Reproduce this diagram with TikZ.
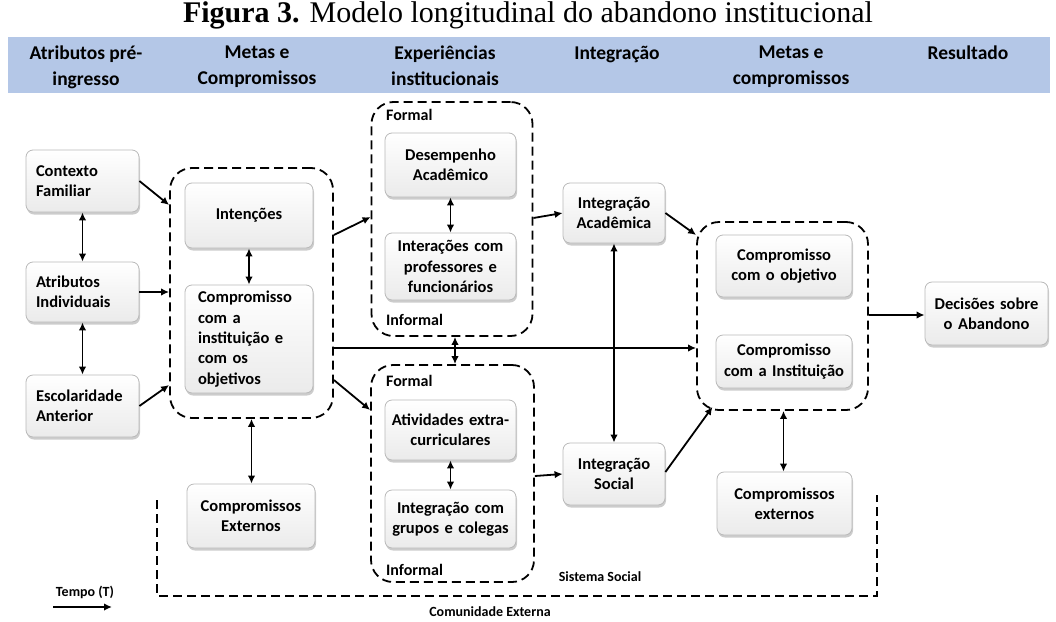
\documentclass[tikz,border=0pt]{standalone}
\usepackage{fontspec}
\setmainfont{Carlito}
\newfontfamily\titlefont{Liberation Serif}
\usetikzlibrary{arrows.meta,shadows,calc}
\definecolor{bandblue}{HTML}{B4C7E7}
\begin{document}
\begin{tikzpicture}[x=1pt,y=-1pt,
  box/.style={draw=gray!55, line width=0.8pt, rounded corners=7pt,
    top color=white, bottom color=gray!16,
    drop shadow={opacity=0.4, shadow xshift=1pt, shadow yshift=-2.5pt},
    font=\bfseries\fontsize{16.5}{20.3}\selectfont, inner ysep=0pt},
  lbox/.style={box, align=left},
  cbox/.style={box, align=center, inner xsep=0pt},
  group/.style={draw=black, line width=1.8pt, dash pattern=on 9pt off 5pt,
    rounded corners=22pt, inner sep=0pt},
  tag/.style={font=\bfseries\fontsize{16}{18}\selectfont, anchor=west, inner sep=0pt},
  small/.style={font=\bfseries\fontsize{14}{16}\selectfont, inner sep=0pt},
  head/.style={font=\bfseries\fontsize{19.5}{25.5}\selectfont, align=center, anchor=north, inner sep=0pt},
  link/.style={line width=1.8pt, -{Latex[length=8pt,width=7.5pt]}},
  both/.style={line width=1.8pt, {Latex[length=8pt,width=7.5pt]}-{Latex[length=8pt,width=7.5pt]}},
  outline/.style={line width=1.8pt, dash pattern=on 9pt off 5pt}
]
\useasboundingbox (0,0) rectangle (1056,621);

% title and column headers
\node[font=\titlefont\fontsize{30}{34}\selectfont, inner sep=0pt] (title) at (528,15)
  {\textbf{Figura 3.} Modelo longitudinal do abandono institucional};
\fill[bandblue] (8,37) rectangle (1050,93);
\node[head] (h1) at (86,46) {Atributos pré-\\ingresso};
\node[head] (h2) at (257,46) {Metas e\\Compromissos};
\node[head] (h3) at (445,46) {Experiências\\institucionais};
\node[head] (h4) at (617,46) {Integração};
\node[head] (h5) at (791,46) {Metas e\\compromissos};
\node[head] (h6) at (968,46) {Resultado};

% dashed groups
\node[group, minimum width=163, minimum height=250] (c1) at (251.5,293) {};
\node[group, minimum width=161, minimum height=234] (c2) at (452,219) {};
\node[group, minimum width=163, minimum height=217] (c3) at (452.5,473.5) {};
\node[group, minimum width=171, minimum height=188] (c4) at (782.5,316) {};
\node[tag] (f1) at (386,115) {Formal};
\node[tag] (i1) at (386,320) {Informal};
\node[tag] (f2) at (386,381) {Formal};
\node[tag] (i2) at (386,570) {Informal};

% boxes
\node[lbox, inner xsep=10pt, text width=93, minimum height=62] (cf) at (82.5,181) {Contexto\\Familiar};
\node[lbox, inner xsep=10pt, text width=93, minimum height=60] (ai) at (82.5,292) {Atributos\\Individuais};
\node[lbox, inner xsep=10pt, text width=93, minimum height=62] (ea) at (82.5,406) {Escolaridade\\Anterior};
\node[cbox, text width=128, minimum height=65] (int) at (249,215.5) {Intenções};
\node[lbox, inner xsep=13pt, text width=102, minimum height=108] (cio) at (249,339)
  {Compromisso\\com a\\instituição e\\com os\\objetivos};
\node[cbox, text width=128, minimum height=64] (ce1) at (251,516) {Compromissos\\Externos};
\node[cbox, text width=131, minimum height=64] (da) at (450.5,165) {Desempenho\\Acadêmico};
\node[cbox, text width=131, minimum height=67] (ipf) at (450.5,266.5) {Interações com\\professores e\\funcionários};
\node[cbox, text width=131, minimum height=60] (aec) at (450.5,430) {Atividades extra-\\curriculares};
\node[cbox, text width=131, minimum height=58] (igc) at (450.5,519) {Integração com\\grupos e colegas};
\node[cbox, text width=102, minimum height=60] (ia) at (614,213) {Integração\\Acadêmica};
\node[cbox, text width=102, minimum height=62] (is) at (614,474) {Integração\\Social};
\node[cbox, text width=136, minimum height=62] (co) at (784,266) {Compromisso\\com o objetivo};
\node[cbox, text width=136, minimum height=53] (ci) at (784,361.5) {Compromisso\\com a Instituição};
\node[cbox, text width=123, minimum height=63] (dsa) at (986.5,313.5) {Decisões sobre\\o Abandono};
\node[cbox, text width=135, minimum height=63] (ce2) at (784.5,503.5) {Compromissos\\externos};

% connectors
\draw[link] (cf.east) -- ([yshift=88]c1.west);
\draw[link] (ai.east) -- (ai.east -| c1.west);
\draw[link] (ea.east) -- ([yshift=-92]c1.west);
\draw[both] (cf.south) -- (ai.north);
\draw[both] (ai.south) -- (ea.north);
\draw[both] (int.south) -- (int.south |- cio.north);
\draw[both] (c1.south) -- (c1.south |- ce1.north);
\draw[link] ([yshift=58]c1.east) -- ([yshift=2]c2.west);
\draw[link] ([yshift=-55]c1.east) -- ([yshift=-55]c1.east -| c4.west);
\draw[link] ([yshift=-87]c1.east) -- ([yshift=63.5]c3.west);
\draw[both] (da.south) -- (ipf.north);
\draw[both] ([xshift=3]c2.south) -- ([xshift=3]c2.south |- c3.north);
\draw[both] (aec.south) -- (igc.north);
\draw[link] ([yshift=1]c2.east) -- (ia.west);
\draw[link] ([yshift=-2.5]c3.east) -- (is.west);
\draw[both] (ia.south) -- (is.north);
\draw[link] (ia.east) -- ([yshift=81]c4.west);
\draw[link] ([yshift=2]is.east) -- ([xshift=-70,yshift=4]c4.south);
\draw[both] ([xshift=1]c4.south) -- ([xshift=1]c4.south |- ce2.north);
\draw[link] ([yshift=1]c4.east) -- ([yshift=1]c4.east -| dsa.west);

% external community outline and time arrow
\coordinate (o1) at (157,500);
\coordinate (o2) at (157,596);
\coordinate (o3) at (877,596);
\coordinate (o4) at (877,495);
\draw[outline] (o1) -- (o2) -- (o3) -- (o4);
\node[small] (ss) at (600,577) {Sistema Social};
\node[small] (cx) at (490,612) {Comunidade Externa};
\node[small] (tp) at (85,592) {Tempo (T)};
\coordinate (t0) at (53,607);
\coordinate (t1) at (112,607);
\draw[link] (t0) -- (t1);
\end{tikzpicture}
\end{document}
